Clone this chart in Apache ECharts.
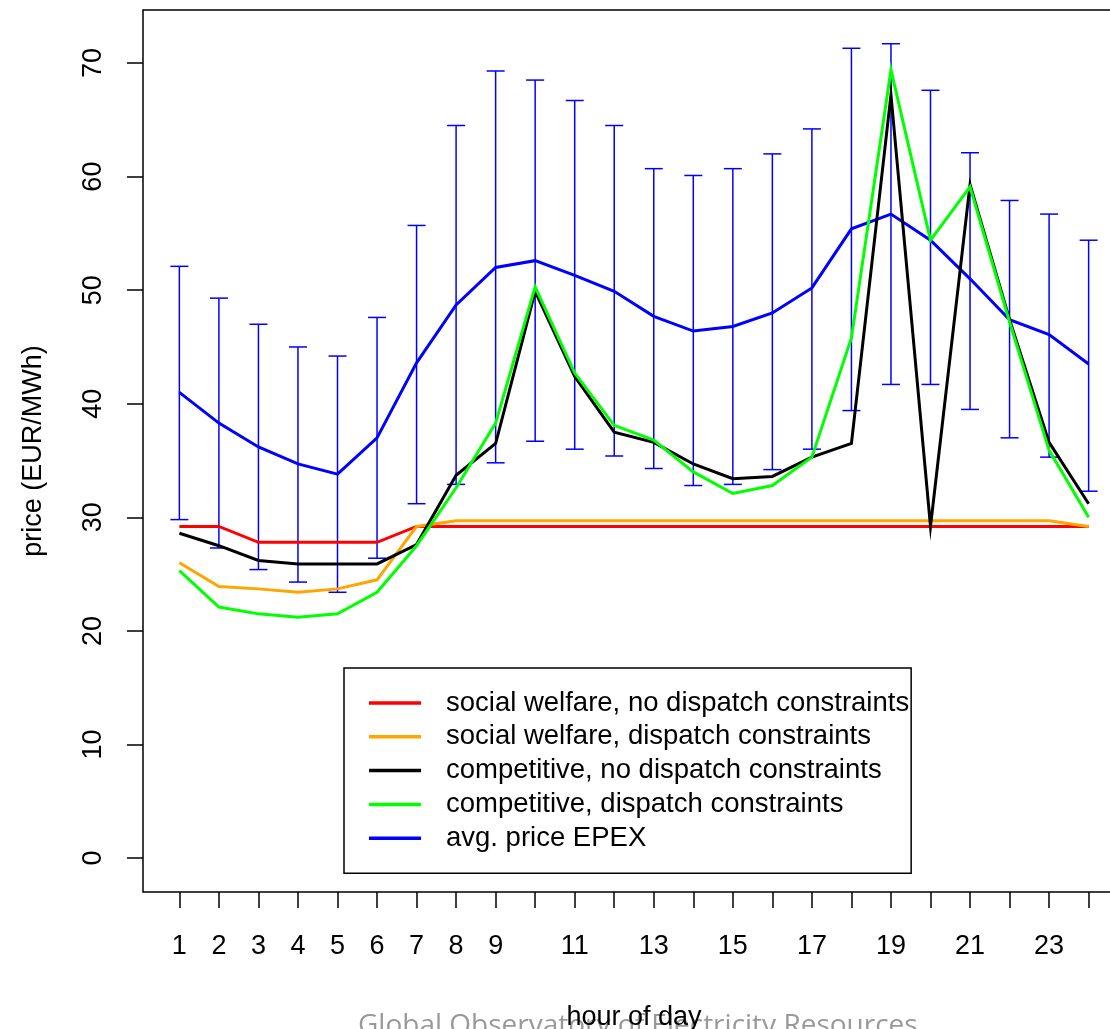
<!DOCTYPE html>
<html>
<head>
<meta charset="utf-8">
<title>Hourly prices</title>
<script src="https://cdn.jsdelivr.net/npm/echarts@6/dist/echarts.min.js"></script>
<style>
  html, body { margin: 0; padding: 0; background: #fff; }
  #chart { width: 1110px; height: 1029px; }
</style>
</head>
<body>
<div id="chart"></div>
<script>
// Hour of day (1..24)
const hours = [1,2,3,4,5,6,7,8,9,10,11,12,13,14,15,16,17,18,19,20,21,22,23,24];

// Model prices (EUR/MWh)
const socialNoDispatch = [29.2,29.2,27.8,27.8,27.8,27.8,29.2,29.2,29.2,29.2,29.2,29.2,29.2,29.2,29.2,29.2,29.2,29.2,29.2,29.2,29.2,29.2,29.2,29.2];
const socialDispatch = [26.0,23.9,23.7,23.4,23.7,24.5,29.2,29.7,29.7,29.7,29.7,29.7,29.7,29.7,29.7,29.7,29.7,29.7,29.7,29.7,29.7,29.7,29.7,29.2];
const competitiveNoDispatch = [28.6,27.5,26.2,25.9,25.9,25.9,27.6,33.7,36.5,49.9,42.4,37.5,36.6,34.7,33.4,33.6,35.3,36.5,67.2,29.2,59.3,47.4,36.6,31.2];
const competitiveDispatch = [25.3,22.1,21.5,21.2,21.5,23.4,27.5,32.6,38.3,50.3,42.7,38.1,36.8,34.0,32.1,32.8,35.3,45.8,69.4,54.4,59.1,47.2,35.9,30.0];

// EPEX spot: average price with its range
const epexAvg = [41.0,38.3,36.2,34.7,33.8,37.0,43.6,48.7,52.0,52.6,51.3,49.9,47.7,46.4,46.8,48.0,50.2,55.4,56.7,54.4,51.0,47.4,46.1,43.5];
const epexHigh = [52.1,49.3,47.0,45.0,44.2,47.6,55.7,64.5,69.3,68.5,66.7,64.5,60.7,60.1,60.7,62.0,64.2,71.3,71.7,67.6,62.1,57.9,56.7,54.4];
const epexLow = [29.8,27.3,25.4,24.3,23.4,26.4,31.2,32.9,34.8,36.7,36.0,35.4,34.3,32.8,32.9,34.2,36.0,39.4,41.7,41.7,39.5,37.0,35.3,32.3];

// Axis ticks and labels
const xTicks = hours;
const xTickLabels = [1,2,3,4,5,6,7,8,9,11,13,15,17,19,21,23];
const yTicks = [0,10,20,30,40,50,60,70];

const seriesNames = [
  'social welfare, no dispatch constraints',
  'social welfare, dispatch constraints',
  'competitive, no dispatch constraints',
  'competitive, dispatch constraints',
  'avg. price EPEX'
];

const FONT = '"Liberation Sans", Arial, sans-serif';
const pairs = (vals) => hours.map((h, i) => [h, vals[i]]);

function lineSeries(name, vals, color, z) {
  return {
    name: name,
    type: 'line',
    data: pairs(vals),
    showSymbol: false,
    symbol: 'none',
    lineStyle: { color: color, width: 3, join: 'miter' },
    itemStyle: { color: color },
    z: z,
    animation: false
  };
}

function renderRange(params, api) {
  const x = api.value(0);
  const lo = api.coord([x, api.value(1)]);
  const hi = api.coord([x, api.value(2)]);
  const hw = 9;
  const st = { stroke: '#0000ff', lineWidth: 1.5 };
  return {
    type: 'group',
    children: [
      { type: 'line', shape: { x1: hi[0], y1: hi[1], x2: lo[0], y2: lo[1] }, style: st },
      { type: 'line', shape: { x1: hi[0] - hw, y1: hi[1], x2: hi[0] + hw, y2: hi[1] }, style: st },
      { type: 'line', shape: { x1: lo[0] - hw, y1: lo[1], x2: lo[0] + hw, y2: lo[1] }, style: st }
    ]
  };
}

const chart = echarts.init(document.getElementById('chart'), null, { renderer: 'canvas' });

chart.setOption({
  animation: false,
  backgroundColor: '#ffffff',
  textStyle: { fontFamily: FONT },
  grid: {
    left: 143, top: 10, width: 982, height: 882,
    containLabel: false,
    outerBoundsMode: 'none',
    show: true, borderColor: '#000', borderWidth: 1.5, backgroundColor: 'transparent'
  },
  xAxis: {
    type: 'value',
    min: 0.08, max: 24.92,
    name: 'hour of day',
    nameLocation: 'middle',
    nameGap: 112,
    nameTextStyle: { fontFamily: FONT, fontSize: 27, color: '#000' },
    axisLine: { show: false, onZero: false },
    splitLine: { show: false },
    axisTick: { show: true, length: 16, customValues: xTicks, lineStyle: { color: '#000', width: 1.5 } },
    axisLabel: { customValues: xTickLabels, margin: 41, fontFamily: FONT, fontSize: 27, color: '#000' }
  },
  yAxis: {
    type: 'value',
    min: -2.99, max: 74.67,
    name: 'price (EUR/MWh)',
    nameLocation: 'middle',
    nameGap: 96,
    nameRotate: 90,
    nameTextStyle: { fontFamily: FONT, fontSize: 27, color: '#000' },
    axisLine: { show: false, onZero: false },
    splitLine: { show: false },
    axisTick: { show: true, length: 16, customValues: yTicks, lineStyle: { color: '#000', width: 1.5 } },
    axisLabel: { customValues: yTicks, rotate: 90, margin: 36, fontFamily: FONT, fontSize: 27, color: '#000' }
  },
  legend: {
    left: 344, top: 668,
    orient: 'vertical',
    selectedMode: false,
    data: seriesNames,
    icon: 'rect',
    itemWidth: 52,
    itemHeight: 3.5,
    itemGap: 3.8,
    backgroundColor: '#fff',
    borderColor: '#000',
    borderWidth: 1.5,
    borderRadius: 0,
    padding: [20, 2, 20, 25],
    textStyle: { fontFamily: FONT, fontSize: 27.5, color: '#000', lineHeight: 30, padding: [0, 0, 0, 20] }
  },
  graphic: [
    {
      type: 'text',
      left: 358, top: 1012,
      z: -10,
      style: {
        text: 'Global Observatory of Electricity Resources',
        font: '28px "Open Sans", sans-serif',
        fill: '#999999'
      }
    }
  ],
  series: [
    {
      name: 'EPEX range',
      type: 'custom',
      renderItem: renderRange,
      data: hours.map((h, i) => [h, epexLow[i], epexHigh[i]]),
      encode: { x: 0, y: [1, 2] },
      z: 2,
      animation: false
    },
    lineSeries(seriesNames[4], epexAvg, '#0000ff', 3),
    lineSeries(seriesNames[0], socialNoDispatch, '#ff0000', 4),
    lineSeries(seriesNames[1], socialDispatch, '#ffa500', 4),
    lineSeries(seriesNames[2], competitiveNoDispatch, '#000000', 5),
    lineSeries(seriesNames[3], competitiveDispatch, '#00ff00', 6)
  ]
});
</script>
</body>
</html>
